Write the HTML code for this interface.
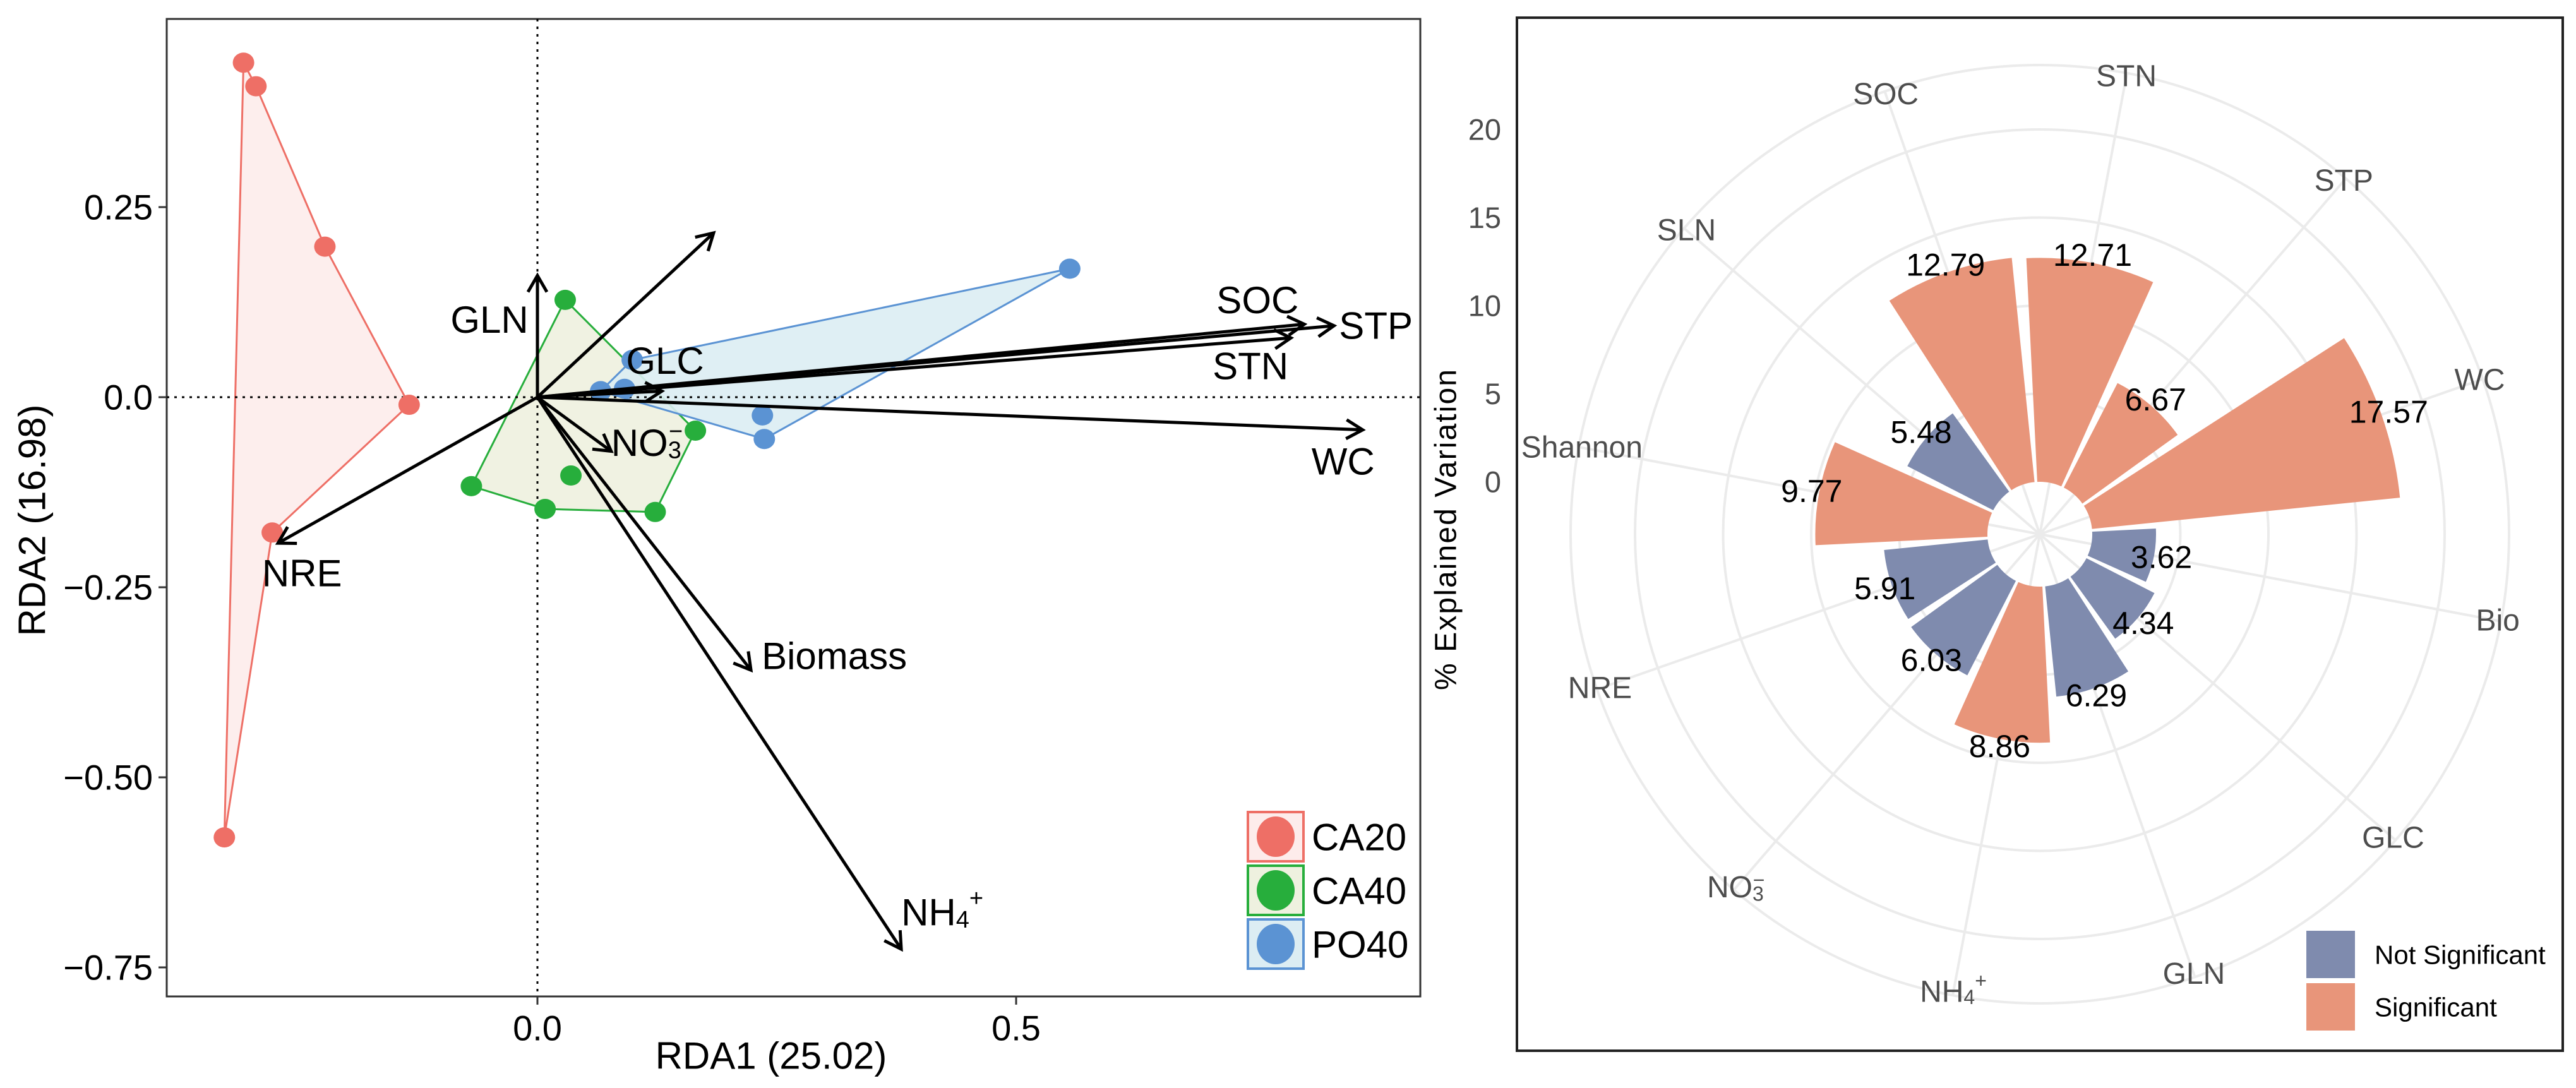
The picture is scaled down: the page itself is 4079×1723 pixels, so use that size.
<!DOCTYPE html>
<html><head><meta charset="utf-8"><style>
html,body{margin:0;padding:0;background:#fff;}
svg{display:block;font-family:"Liberation Sans",Arial,sans-serif;}
</style></head><body>
<svg id="fig" width="4079" height="1723" viewBox="0 0 4079 1723" xmlns="http://www.w3.org/2000/svg">
<g id="left"></g>
<g id="right"></g>
</svg>
<script>
// ---------- RDA biplot data ----------
const groupNames = ["CA20","CA40","PO40"];
const ca20X = [-0.307,-0.294,-0.222,-0.134,-0.277,-0.327];
const ca20Y = [0.440,0.409,0.198,-0.010,-0.178,-0.579];
const ca40X = [0.029,0.165,0.123,0.008,-0.069,0.035];
const ca40Y = [0.128,-0.044,-0.151,-0.147,-0.117,-0.103];
const po40X = [0.099,0.556,0.237,0.235,0.066,0.091];
const po40Y = [0.049,0.169,-0.055,-0.024,0.008,0.011];
const arrowNames = ["SOC","STP","STN","WC","GLC","GLN","NO3","Biomass","NH4","NRE",""];
const arrowX = [0.801,0.832,0.787,0.862,0.130,0.000,0.077,0.223,0.380,-0.271,0.184];
const arrowY = [0.096,0.094,0.078,-0.043,0.008,0.160,-0.071,-0.359,-0.726,-0.192,0.216];
const xTicks = [0.0,0.5];
const xTickLabels = ["0.0","0.5"];
const yTicks = [0.25,0.0,-0.25,-0.5,-0.75];
const yTickLabels = ["0.25","0.0","\u22120.25","\u22120.50","\u22120.75"];

// ---------- Polar bar data ----------
const catNames = ["STN","STP","WC","Bio","GLC","GLN","NH4","NO3","NRE","Shannon","SLN","SOC"];
const catValues = [12.71,6.67,17.57,3.62,4.34,6.29,8.86,6.03,5.91,9.77,5.48,12.79];
const catSignificant = [1,1,1,0,0,0,1,0,0,1,0,1];
const rTicks = [0,5,10,15,20];

const NS="http://www.w3.org/2000/svg";
function mk(tag,attrs,parent){const e=document.createElementNS(NS,tag);for(const k in attrs)e.setAttribute(k,attrs[k]);parent.appendChild(e);return e;}

// ===== Left chart =====
const L=document.getElementById('left');
const X=v=>851+1516*v, Y=v=>629-1204*v;
const PL=264,PT=30,PR=2249,PB=1578;
let fr=mk('rect',{x:PL,y:PT,width:PR-PL,height:PB-PT,fill:'#fff',stroke:'#333','stroke-width':3},L);


const groupData=[[ca20X,ca20Y],[ca40X,ca40Y],[po40X,po40Y]];
const hullFill=['#FDECEB','#EEF1DF','#DCEDF3'];
const strokeCol=['#EE6F66','#27AE3C','#5B93D3'];
const hullIdx=[[0,1,2,3,4,5],[0,1,2,3,4],[0,1,2,4]];
groupData.forEach((g,i)=>{
  const pts=hullIdx[i].map(k=>X(g[0][k])+','+Y(g[1][k])).join(' ');
  const p=mk('polygon',{points:pts,fill:hullFill[i],'fill-opacity':0.9,stroke:strokeCol[i],'stroke-width':3},L);
  
  
});
let dv=mk('line',{x1:X(0),x2:X(0),y1:PT,y2:PB,stroke:'#000','stroke-width':3,'stroke-dasharray':'4 8'},L);


let dh=mk('line',{x1:PL,x2:PR,y1:Y(0),y2:Y(0),stroke:'#000','stroke-width':3,'stroke-dasharray':'4 8'},L);


groupData.forEach((g,i)=>{
  g[0].forEach((xv,k)=>{
    const c=mk('ellipse',{cx:X(xv),cy:Y(g[1][k]),rx:17,ry:16,fill:strokeCol[i]},L);
    
    
  });
});
const labOff={SOC:[-74,-38,'middle'],STP:[8,0,'start'],STN:[-64,45,'middle'],WC:[-31,50,'middle'],GLC:[5,-48,'middle'],GLN:[-76,70,'middle'],NO3:[0,-13,'start'],Biomass:[17,-22,'start'],NH4:[0,-58,'start'],NRE:[38,48,'middle']};
arrowNames.forEach((n,i)=>{
  const x0=X(0),y0=Y(0),x1=X(arrowX[i]),y1=Y(arrowY[i]);
  const ln=mk('line',{x1:x0,y1:y0,x2:x1,y2:y1,stroke:'#000','stroke-width':5},L);
  
  
  const a=Math.atan2(y1-y0,x1-x0),h=30,s=Math.PI/6;
  const hd=mk('polyline',{points:`${x1-h*Math.cos(a-s)},${y1-h*Math.sin(a-s)} ${x1},${y1} ${x1-h*Math.cos(a+s)},${y1-h*Math.sin(a+s)}`,fill:'none',stroke:'#000','stroke-width':5},L);
  
  
  if(n){
    const o=labOff[n];
    const t=mk('text',{x:x1+o[0],y:y1+o[1],'font-size':60,'text-anchor':o[2],'dominant-baseline':'central',fill:'#000'},L);
    
    
    if(n==='NO3'){t.innerHTML='NO<tspan font-size="38" dy="12">3</tspan><tspan font-size="38" dy="-30" dx="-20">\u2212</tspan>';}
    else if(n==='NH4'){t.innerHTML='NH<tspan font-size="38" dy="12">4</tspan><tspan font-size="38" dy="-34">+</tspan>';}
    else t.textContent=n;
  }
});
xTicks.forEach((v,i)=>{
  let tk=mk('line',{x1:X(v),x2:X(v),y1:PB,y2:PB+13,stroke:'#333','stroke-width':3},L);
  
  
  let t=mk('text',{x:X(v),y:1628,'font-size':56,'text-anchor':'middle','dominant-baseline':'central'},L);
  t.textContent=xTickLabels[i];
  
  
});
yTicks.forEach((v,i)=>{
  let tk=mk('line',{x1:PL-13,x2:PL,y1:Y(v),y2:Y(v),stroke:'#333','stroke-width':3},L);
  
  
  let t=mk('text',{x:242,y:Y(v),'font-size':56,'text-anchor':'end','dominant-baseline':'central'},L);
  t.textContent=yTickLabels[i];
  
  
});
let xt=mk('text',{x:1221,y:1672,'font-size':60,'text-anchor':'middle','dominant-baseline':'central'},L);
xt.textContent='RDA1 (25.02)';


let yt=mk('text',{x:0,y:0,'font-size':60,'text-anchor':'middle','dominant-baseline':'central',transform:'translate(51,824) rotate(-90)'},L);
yt.textContent='RDA2 (16.98)';


groupNames.forEach((g,i)=>{
  const y=1286+i*85;
  const r=mk('rect',{x:1976,y:y,width:88,height:78,fill:hullFill[i],stroke:strokeCol[i],'stroke-width':4},L);
  
  
  const c=mk('ellipse',{cx:2020,cy:y+39,rx:30,ry:32,fill:strokeCol[i]},L);
  
  
  const t=mk('text',{x:2077,y:y+40,'font-size':60,'dominant-baseline':'central'},L);
  t.textContent=g;
  
  
});

// ===== Right chart =====
const R=document.getElementById('right');
const CX=3230,CY=846,R0=83,RS=27.9,ROUT=743,RLAB=738;
const rr=v=>R0+RS*v;
const ang=i=>(10.7+30*i)*Math.PI/180;
let rf=mk('rect',{x:2402,y:28,width:1656,height:1636,fill:'#fff',stroke:'#222','stroke-width':4},R);


rTicks.slice(1).concat([ (ROUT-R0)/RS ]).forEach(v=>{
  const c=mk('circle',{cx:CX,cy:CY,r:rr(v),fill:'none',stroke:'#EBEBEB','stroke-width':4},R);
  
  
});
catNames.forEach((n,i)=>{
  const a=ang(i);
  const l=mk('line',{x1:CX,y1:CY,x2:CX+ROUT*Math.sin(a),y2:CY-ROUT*Math.cos(a),stroke:'#EBEBEB','stroke-width':4},R);
  
  
});
catNames.forEach((n,i)=>{
  const a0=ang(i)-13.5*Math.PI/180,a1=ang(i)+13.5*Math.PI/180,ro=rr(catValues[i]);
  const P=(r,a)=>`${CX+r*Math.sin(a)},${CY-r*Math.cos(a)}`;
  const d=`M${P(R0,a0)} L${P(ro,a0)} A${ro},${ro} 0 0 1 ${P(ro,a1)} L${P(R0,a1)} A${R0},${R0} 0 0 0 ${P(R0,a0)} Z`;
  const b=mk('path',{d:d,fill:catSignificant[i]?'#E8957A':'#7F8BAE'},R);
  
  
});
catNames.forEach((n,i)=>{
  const a=ang(i),r=rr(catValues[i])+12;
  const t=mk('text',{x:CX+r*Math.sin(a),y:CY-r*Math.cos(a),'font-size':50,'text-anchor':'middle','dominant-baseline':'central',fill:'#000'},R);
  t.textContent=catValues[i].toFixed(2);
  
  
  const t2=mk('text',{x:CX+RLAB*Math.sin(a),y:CY-RLAB*Math.cos(a),'font-size':48,'text-anchor':'middle','dominant-baseline':'central',fill:'#4D4D4D'},R);
  
  
  if(n==='NO3')t2.innerHTML='NO<tspan font-size="32" dy="10">3</tspan><tspan font-size="32" dy="-22" dx="-17">\u2212</tspan>';
  else if(n==='NH4')t2.innerHTML='NH<tspan font-size="32" dy="8">4</tspan><tspan font-size="32" dy="-26">+</tspan>';
  else t2.textContent=n;
});
rTicks.forEach(v=>{
  const t=mk('text',{x:2377,y:CY-rr(v),'font-size':47,'text-anchor':'end','dominant-baseline':'central',fill:'#4D4D4D'},R);
  t.textContent=String(v);
  
  
});
let pt=mk('text',{x:0,y:0,'font-size':48,'text-anchor':'middle','dominant-baseline':'central',textLength:508,transform:'translate(2290,839) rotate(-90)'},R);
pt.textContent='% Explained Variation';


[['Not Significant','#7F8BAE',1474],['Significant','#E8957A',1557]].forEach(([lab,col,y])=>{
  const r=mk('rect',{x:3652,y:y,width:77,height:75,fill:col},R);
  
  
  const t=mk('text',{x:3760,y:y+38,'font-size':42,'dominant-baseline':'central',fill:'#000'},R);
  t.textContent=lab;
  
  
});
</script>
</body></html>
